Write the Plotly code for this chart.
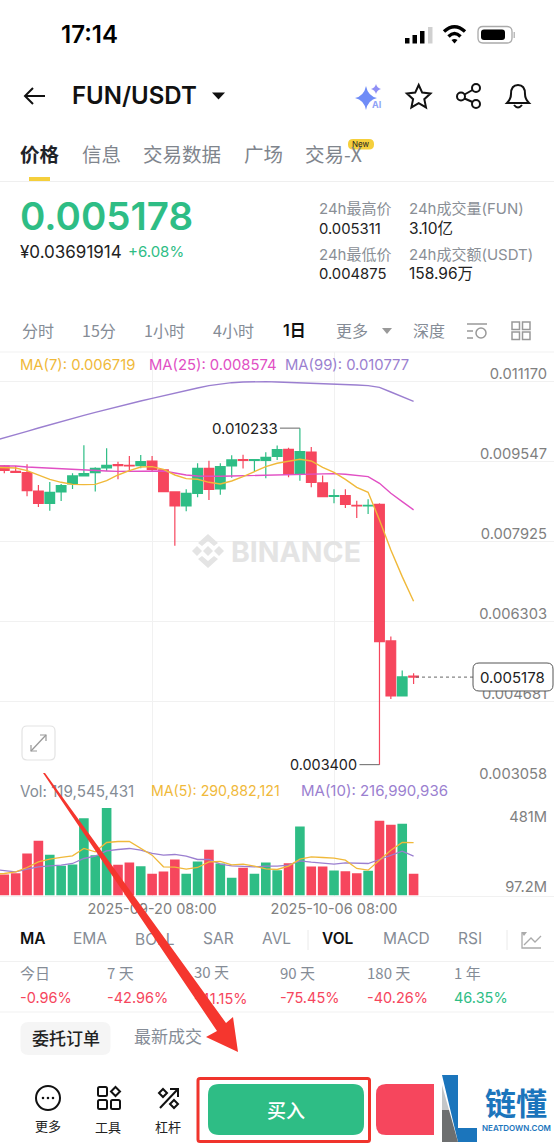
import pandas as pd
import plotly.graph_objects as go

W, H = 554, 1144
GREEN = "#2ebd85"
RED = "#f6465d"
GRAY = "#858c96"
DARK = "#1e2329"
FONT = "Inter, 'Noto Sans CJK SC', sans-serif"
CJK = "'Noto Sans CJK SC', Inter, sans-serif"

# daily bars, first date only feeds the MA lines (it sits off the left edge)
dates = pd.date_range("2025-09-06 08:00", periods=38, freq="D")
candle_dates = dates[1:]

opens = [0.009465, 0.009356, 0.009329, 0.008957, 0.008707, 0.008937, 0.009099, 0.009262, 0.009329, 0.009424,
         0.009492, 0.009478, 0.009471, 0.009566, 0.009384, 0.008937, 0.008653, 0.008910, 0.009417, 0.008998,
         0.009465, 0.009593, 0.009580, 0.009580, 0.009661, 0.009803, 0.009316, 0.009749, 0.009120, 0.008849,
         0.008863, 0.008666, 0.008653, 0.008687, 0.005912, 0.004796, 0.005200]
highs = [0.009485, 0.009465, 0.009499, 0.009079, 0.009140, 0.009099, 0.009316, 0.009884, 0.009438, 0.009823,
         0.009553, 0.009668, 0.009688, 0.009668, 0.009397, 0.008940, 0.008991, 0.009519, 0.009573, 0.009519,
         0.009681, 0.009695, 0.009593, 0.009742, 0.009878, 0.009837, 0.010233, 0.009850, 0.009269, 0.008991,
         0.008991, 0.008761, 0.008788, 0.008707, 0.006000, 0.005311, 0.005257]
lows = [0.009316, 0.009329, 0.008849, 0.008632, 0.008558, 0.008754, 0.008998, 0.009255, 0.008944, 0.009363,
        0.009194, 0.009363, 0.009417, 0.009350, 0.008937, 0.007847, 0.008544, 0.008829, 0.008775, 0.008883,
        0.009228, 0.009411, 0.009350, 0.009214, 0.009587, 0.009235, 0.009167, 0.009032, 0.008829, 0.008707,
        0.008612, 0.008409, 0.008490, 0.003400, 0.004735, 0.004790, 0.005039]
closes = [0.009377, 0.009336, 0.008964, 0.008707, 0.008930, 0.009066, 0.009262, 0.009309, 0.009417, 0.009478,
          0.009471, 0.009465, 0.009553, 0.009397, 0.008944, 0.008653, 0.008910, 0.009417, 0.008991, 0.009451,
          0.009587, 0.009580, 0.009593, 0.009641, 0.009796, 0.009296, 0.009756, 0.009133, 0.008842, 0.008863,
          0.008687, 0.008653, 0.008666, 0.005898, 0.004796, 0.005181, 0.005178]

ma7 = [0.009438, 0.009438, 0.009424, 0.009370, 0.009282, 0.009194, 0.009133, 0.009092, 0.009086, 0.009092,
       0.009167, 0.009282, 0.009370, 0.009444, 0.009451, 0.009397, 0.009282, 0.009208, 0.009194, 0.009133,
       0.009099, 0.009160, 0.009248, 0.009350, 0.009451, 0.009519, 0.009566, 0.009600, 0.009566, 0.009438,
       0.009336, 0.009194, 0.009032, 0.008930, 0.008368, 0.007759, 0.007218, 0.006719]
ma25 = [0.009465, 0.009465, 0.009465, 0.009444, 0.009431, 0.009417, 0.009404, 0.009390, 0.009377, 0.009370,
        0.009363, 0.009356, 0.009356, 0.009363, 0.009370, 0.009363, 0.009323, 0.009282, 0.009262, 0.009255,
        0.009255, 0.009262, 0.009268, 0.009268, 0.009275, 0.009289, 0.009289, 0.009296, 0.009302, 0.009309,
        0.009309, 0.009296, 0.009275, 0.009248, 0.009113, 0.008910, 0.008741, 0.008574]
ma99 = [0.009972, 0.010033, 0.010094, 0.010168, 0.010236, 0.010304, 0.010365, 0.010439, 0.010493, 0.010554,
        0.010615, 0.010676, 0.010723, 0.010784, 0.010838, 0.010893, 0.010947, 0.011008, 0.011048, 0.011096,
        0.011129, 0.011156, 0.011170, 0.011177, 0.011177, 0.011170, 0.011163, 0.011156, 0.011143, 0.011136,
        0.011129, 0.011116, 0.011109, 0.011096, 0.011062, 0.010967, 0.010879, 0.010777]

# volume in millions
volumes = [115.5, 122.8, 231.0, 300.7, 223.7, 163.2, 170.5, 425.3, 221.8, 481.0,
           168.7, 181.5, 161.3, 119.2, 132.0, 198.0, 119.2, 187.0, 251.2, 176.0,
           97.2, 152.2, 119.2, 181.5, 139.3, 177.8, 379.5, 159.5, 159.5, 137.5,
           133.8, 122.8, 135.7, 410.7, 388.7, 394.2, 119.5]
vol_ma5 = [117.3, 121.0, 130.2, 154.0, 185.2, 199.8, 209.0, 218.2, 258.5, 240.2,
           291.5, 297.0, 297.0, 258.5, 221.8, 157.7, 155.8, 144.8, 154.0, 185.2,
           187.0, 168.7, 172.3, 161.3, 146.7, 143.0, 161.3, 199.8, 212.7, 209.0,
           205.3, 194.3, 148.5, 139.3, 194.3, 249.3, 291.5, 290.9]
vol_ma10 = [143.0, 137.5, 130.2, 144.8, 157.7, 163.2, 166.8, 176.0, 203.5, 216.3,
            245.7, 253.0, 258.5, 249.3, 231.0, 221.8, 225.5, 216.3, 198.0, 198.0,
            172.3, 163.2, 161.3, 157.7, 161.3, 161.3, 166.8, 190.7, 183.3, 176.0,
            172.3, 179.7, 176.0, 176.0, 198.0, 221.8, 243.8, 217.0]

price_ticks = [0.011170, 0.009547, 0.007925, 0.006303, 0.004681, 0.003058]
price_labels = ["0.011170", "0.009547", "0.007925", "0.006303", "0.004681", "0.003058"]
vol_ticks = [481, 97.2]
vol_labels = ["481M", "97.2M"]
date_ticks = ["2025-09-20 08:00", "2025-10-06 08:00"]

bar_colors = [GREEN if c >= o else RED for o, c in zip(opens, closes)]


def dom(top, bottom):
    return [1 - bottom / H, 1 - top / H]


fig = go.Figure()

fig.add_trace(go.Candlestick(
    x=candle_dates, open=opens, high=highs, low=lows, close=closes,
    increasing=dict(line=dict(color=GREEN, width=1.2), fillcolor=GREEN),
    decreasing=dict(line=dict(color=RED, width=1.2), fillcolor=RED),
    whiskerwidth=0, xaxis="x", yaxis="y", hoverinfo="skip"))
for vals, col in [(ma99, "#9b7fd0"), (ma25, "#e14fc4"), (ma7, "#f0b93a")]:
    fig.add_trace(go.Scatter(x=dates, y=vals, mode="lines", line=dict(color=col, width=1.4),
                             xaxis="x", yaxis="y", hoverinfo="skip"))

fig.add_trace(go.Bar(x=candle_dates, y=volumes, marker=dict(color=bar_colors, line=dict(width=0)),
                     width=73000000, xaxis="x2", yaxis="y2", hoverinfo="skip"))
for vals, col in [(vol_ma10, "#9b7fd0"), (vol_ma5, "#f0b93a")]:
    fig.add_trace(go.Scatter(x=dates, y=vals, mode="lines", line=dict(color=col, width=1.3),
                             xaxis="x2", yaxis="y2", hoverinfo="skip"))

# texts the red arrow runs over have to be in a trace, annotations would sit on top of it
under_arrow = [
    (20, 793, "Vol: 119,545,431", GRAY, 15.2, FONT),
    (135, 941, "BOLL", GRAY, 15.5, FONT),
    (194, 974, "30 天", GRAY, 15, CJK),
    (194, 1000, "-41.15%", RED, 14.5, FONT),
    (134, 1039, "最新成交", GRAY, 17, CJK),
]
for x, y, s, col, size, fam in under_arrow:
    fig.add_trace(go.Scatter(x=[x], y=[y], mode="text", text=[s], textposition="middle right",
                             textfont=dict(color=col, size=size, family=fam),
                             xaxis="x3", yaxis="y3", hoverinfo="skip"))

grid = "#f1f1f1"
xr = ["2025-09-06 22:55", "2025-10-25 16:24"]
fig.update_layout(
    width=W, height=H, autosize=False, margin=dict(l=0, r=0, t=0, b=0),
    paper_bgcolor="white", plot_bgcolor="rgba(0,0,0,0)", showlegend=False,
    boxgap=0, boxgroupgap=0.15, font=dict(family=FONT),
    xaxis=dict(domain=[0, 1], range=xr, type="date", rangeslider=dict(visible=False), matches="x2",
               tickvals=date_ticks, showticklabels=False, ticks="", showgrid=True, gridcolor=grid,
               gridwidth=1, zeroline=False, anchor="y"),
    yaxis=dict(domain=dom(352, 781.9), range=[0.003050, 0.011779], side="right", anchor="x",
               tickvals=price_ticks, ticktext=price_labels, ticklabelposition="inside",
               ticklabeloverflow="allow", ticklabelshift=-8, ticklabelstandoff=4,
               tickfont=dict(size=14.7, color="#808080", family=FONT),
               ticks="", showgrid=True, gridcolor=grid, gridwidth=1, zeroline=False, showline=False),
    xaxis2=dict(domain=[0, 1], range=xr, type="date", tickvals=date_ticks, tickformat="%Y-%m-%d %H:%M",
                tickfont=dict(size=14.5, color="#808080", family=FONT), ticks="", showgrid=True,
                gridcolor=grid, gridwidth=1, zeroline=False, anchor="y2", showline=True, linecolor=grid),
    yaxis2=dict(domain=dom(782, 895.5), range=[0, 624], side="right", anchor="x2",
                tickvals=vol_ticks, ticktext=vol_labels, ticklabelposition="inside",
                ticklabeloverflow="allow", ticklabelshift=9, ticklabelstandoff=4,
                tickfont=dict(size=14.7, color="#808080", family=FONT),
                ticks="", showgrid=False, zeroline=False),
    # full page axis in screen pixels for the app chrome around the chart
    xaxis3=dict(domain=[0, 1], range=[0, W], visible=False, anchor="y3"),
    yaxis3=dict(domain=[0, 1], range=[H, 0], visible=False, anchor="x3"),
)

shapes = []


def line(x0, y0, x1, y1, col="#000", w=1.0, dash=None):
    shapes.append(dict(type="line", xref="x3", yref="y3", x0=x0, y0=y0, x1=x1, y1=y1,
                       line=dict(color=col, width=w, dash=dash), layer="above"))


def rect(x0, y0, x1, y1, fill=None, col=None, w=0, layer="above"):
    shapes.append(dict(type="rect", xref="x3", yref="y3", x0=x0, y0=y0, x1=x1, y1=y1,
                       fillcolor=fill or "rgba(0,0,0,0)", line=dict(color=col or "rgba(0,0,0,0)", width=w),
                       layer=layer))


def path(d, fill=None, col=None, w=0, layer="above"):
    shapes.append(dict(type="path", xref="x3", yref="y3", path=d, fillcolor=fill or "rgba(0,0,0,0)",
                       line=dict(color=col or "rgba(0,0,0,0)", width=w), layer=layer))


def round_rect(x0, y0, x1, y1, r):
    return (f"M{x0 + r},{y0} L{x1 - r},{y0} Q{x1},{y0} {x1},{y0 + r} L{x1},{y1 - r} Q{x1},{y1} {x1 - r},{y1} "
            f"L{x0 + r},{y1} Q{x0},{y1} {x0},{y1 - r} L{x0},{y0 + r} Q{x0},{y0} {x0 + r},{y0} Z")


def circle(cx, cy, r, fill=None, col=None, w=0):
    shapes.append(dict(type="circle", xref="x3", yref="y3", x0=cx - r, y0=cy - r, x1=cx + r, y1=cy + r,
                       fillcolor=fill or "rgba(0,0,0,0)", line=dict(color=col or "rgba(0,0,0,0)", width=w),
                       layer="above"))


notes = []


def txt(x, y, s, size=14, col=GRAY, anchor="left", weight=None, fam=FONT):
    # annotations pad their box by about a pixel
    if anchor == "left":
        x -= 1
    notes.append(dict(xref="x3", yref="y3", x=x, y=y - 0.5, text=s, showarrow=False, xanchor=anchor,
                      yanchor="middle", font=dict(size=size, color=col, family=fam, weight=weight or 400),
                      borderpad=0))


# status bar
txt(61, 35, "17:14", 24, "#000", weight=600)
for x0, top, col in [(405, 38, "#000"), (412.5, 35, "#000"), (420, 31, "#000"), (428, 27, "#d0d0d0")]:
    rect(x0, top, x0 + 4.5, 43.5, fill=col)
path("M444,31.5 Q454.5,22 465,31.5", col="#000", w=3.4)
path("M448.5,36.5 Q454.5,30.5 460.5,36.5", col="#000", w=3.4)
path("M451.5,40 L454.5,43.5 L457.5,40 Q454.5,38 451.5,40 Z", fill="#000")
path(round_rect(478, 26.5, 512, 43, 5), col="#aaa", w=1.3)
path(round_rect(481, 29.5, 505, 40, 3), fill="#000")
rect(513.5, 32, 515, 38, fill="#bbb")

# title row
line(25, 96, 45, 96, "#111", 2)
path("M33,88 L25,96 L33,104", col="#111", w=2)
txt(72, 96, "FUN/USDT", 24, "#111", weight=600)
path("M212,92.5 L225,92.5 L218.5,99.5 Z", fill="#111")
path("M366,86 Q368,96 377,98 Q368,100 366,110 Q364,100 355,98 Q364,96 366,86 Z", fill="#6f8cf7")
path("M376,84 Q377,88 381,89 Q377,90 376,94 Q375,90 371,89 Q375,88 376,84 Z", fill="#8f8ff5")
txt(376, 105, "AI", 9, "#8fa2f7", "center", 700)
path("M418.7,85 L422.2,92.6 L430.5,93.6 L424.3,99.2 L426,107.4 L418.7,103.2 L411.4,107.4 L413.1,99.2 "
     "L406.9,93.6 L415.2,92.6 Z", col="#111", w=2)
circle(476, 88, 4, col="#111", w=2)
circle(461, 96.5, 4, col="#111", w=2)
circle(476, 104, 4, col="#111", w=2)
line(464.5, 94.5, 472.5, 90, "#111", 2)
line(464.5, 98.5, 472.5, 102, "#111", 2)
path("M507,103 Q511,99 511,94 Q511,85 518,85 Q525,85 525,94 Q525,99 529,103 Z", col="#111", w=2)
path("M514,105 Q518,110 522,105", col="#111", w=2)

# tabs
txt(20, 154, "价格", 19.5, "#1e2329", weight=600, fam=CJK)
for x, s in [(82, "信息"), (143, "交易数据"), (244, "广场")]:
    txt(x, 154, s, 19.5, "#7f858d", fam=CJK)
txt(305, 154, "交易-X", 19.5, "#7f858d", fam=CJK)
path(round_rect(348, 139, 374, 149.5, 5), fill="#f5cf3c")
txt(361, 144.5, "New", 8, "#222", "center")
rect(29, 177, 50, 181, fill="#f5cf3c")
line(0, 181.5, W, 181.5, "#efefef", 1)

# price block
txt(20, 216, "0.005178", 38.5, GREEN, weight=600)
txt(20, 252, "¥0.03691914", 17, "#222")
txt(128, 252, "+6.08%", 15, GREEN)
txt(319, 209, "24h最高价", 15, "#8a8f96", fam=FONT)
txt(319, 229, "0.005311", 14.8, "#222")
txt(319, 255, "24h最低价", 15, "#8a8f96")
txt(319, 274, "0.004875", 14.8, "#222")
txt(409, 209, "24h成交量(FUN)", 15, "#8a8f96")
txt(409, 229, "3.10亿", 15.5, "#222")
txt(409, 255, "24h成交额(USDT)", 15, "#8a8f96")
txt(409, 274, "158.96万", 15.5, "#222")

# interval row
for x, s in [(22, "分时"), (82, "15分"), (144, "1小时"), (213, "4小时"), (336, "更多"), (413, "深度")]:
    txt(x, 330.5, s, 16, "#858c96", fam=CJK)
txt(283, 330.5, "1日", 16, "#111", weight=600)
path("M382,328 L392,328 L387,334 Z", fill="#999")
line(467, 324, 487, 324, "#999", 1.5)
line(467, 331, 473, 331, "#999", 1.5)
line(467, 338, 473, 338, "#999", 1.5)
circle(481, 333, 5, col="#999", w=1.5)
for gx, gy in [(512, 322), (522.5, 322), (512, 332), (522.5, 332)]:
    rect(gx, gy, gx + 7.5, gy + 7.5, col="#999", w=1.5)
line(0, 352, W, 352, "#f1f1f1", 1)

txt(20, 365, "MA(7): 0.006719", 14.8, "#f0b93a")
txt(149, 365, "MA(25): 0.008574", 14.8, "#e14fc4")
txt(285, 365, "MA(99): 0.010777", 14.8, "#9b7fd0")

# watermark goes under the candles
wm = "#e4e4e4"
for d in ["M208,546 L213,551 L208,556 L203,551 Z", "M197,546 L202,551 L197,556 L192,551 Z",
          "M219,546 L224,551 L219,556 L214,551 Z"]:
    path(d, fill=wm, layer="below")
path("M198,543 L208,534 L218,543 L214,546 L208,541 L202,546 Z", fill=wm, layer="below")
path("M198,559 L208,568 L218,559 L214,556 L208,561 L202,556 Z", fill=wm, layer="below")
txt(231, 552, "BINANCE", 28.5, wm, weight=700)

# extreme price tags on the candles
for xv, yv, s, fs in [("2025-10-03 08:00", 0.010233, "0.010233", 15), ("2025-10-10 08:00", 0.003400, "0.003400", 14.4)]:
    notes.append(dict(xref="x", yref="y", x=xv, y=yv, text=s, showarrow=True, arrowhead=0, arrowcolor="#666",
                      arrowwidth=1, ax=-20, ay=0, axref="pixel", ayref="pixel", xanchor="right", standoff=0,
                      font=dict(size=fs, color="#222", family=FONT)))

# last price tag
shapes.append(dict(type="line", xref="x3", yref="y", x0=416, x1=473, y0=0.005178, y1=0.005178,
                   line=dict(color="#666", width=1, dash="3px,3px"), layer="above"))
path(round_rect(473, 663, 553, 691, 6), fill="white", col="#555", w=1)
txt(480, 677.5, "0.005178", 15, "#222")

# expand button
path(round_rect(22, 726, 55, 760, 5), fill="white", col="#e3e3e3", w=1.2)
line(31, 751, 46, 735, "#999", 1.2)
path("M40,735 L46,735 L46,741", col="#999", w=1.2)
path("M31,745 L31,751 L37,751", col="#999", w=1.2)

# volume legend
txt(151, 791, "MA(5): 290,882,121", 14.2, "#f0b93a")
txt(301, 791, "MA(10): 216,990,936", 15, "#9b7fd0")

# indicator row
txt(20, 939, "MA", 15.5, "#111", weight=600)
txt(73, 939, "EMA", 15.5, GRAY)
txt(203, 939, "SAR", 15.5, GRAY)
txt(262, 939, "AVL", 15.5, GRAY)
line(308, 930, 308, 950, "#eaeaea", 1)
txt(322, 939, "VOL", 15.5, "#111", weight=600)
txt(383, 939, "MACD", 15.5, GRAY)
txt(458, 939, "RSI", 15.5, GRAY)
line(507, 930, 507, 950, "#eaeaea", 1)
path("M522,933 L522,948 L541,948", col="#aaa", w=1.3)
path("M524,945 L531,938 L535,942 L541,936", col="#aaa", w=1.3)
path("M521,932 L527,932 L524,936 Z", fill="#aaa")
line(0, 961.5, W, 961.5, "#f1f1f1", 1)

# change row
for x, s in [(20, "今日"), (107, "7 天"), (280, "90 天"), (367, "180 天"), (454, "1 年")]:
    txt(x, 973, s, 15, GRAY, fam=CJK)
for x, s, col in [(20, "-0.96%", RED), (107, "-42.96%", RED), (280, "-75.45%", RED), (367, "-40.26%", RED),
                  (454, "46.35%", GREEN)]:
    txt(x, 998, s, 14.5, col)
line(0, 1012, W, 1012, "#f1f1f1", 1)

# order tabs
path(round_rect(20.5, 1022, 110.5, 1055, 8), fill="#f5f5f5", layer="below")
txt(65.5, 1038, "委托订单", 17, "#222", "center", 500, CJK)

# bottom bar icons
circle(48, 1098, 12, col="#111", w=2)
for dx in [-5, 0, 5]:
    circle(48 + dx, 1098, 1.3, fill="#111")
txt(48, 1126, "更多", 13, "#222", "center", fam=CJK)
for gx, gy in [(98, 1087), (98, 1100), (111, 1100)]:
    path(round_rect(gx, gy, gx + 9, gy + 9, 1.5), col="#111", w=2)
path("M115.5,1087 L120,1091.5 L115.5,1096 L111,1091.5 Z", col="#111", w=2)
txt(108, 1127, "工具", 13, "#222", "center", fam=CJK)
line(160, 1108, 177, 1090, "#111", 2)
path("M170,1089 L178,1089 L178,1097", col="#111", w=2)
path("M163,1089 L167,1093 L163,1097 L159,1093 Z", col="#111", w=2)
path("M174,1100 L178,1104 L174,1108 L170,1104 Z", col="#111", w=2)
txt(168, 1127, "杠杆", 13, "#222", "center", fam=CJK)

# buttons
path(round_rect(376, 1084, 450, 1135, 10), fill=RED)
path(round_rect(198, 1078.5, 369.5, 1141.5, 2), col="#f0342c", w=3)
path(round_rect(208, 1084, 364, 1135, 11), fill=GREEN)
txt(285.5, 1110, "买入", 19, "white", "center", 500, CJK)

# watermark logo bottom right
rect(434, 1072, W, H, fill="white")
path("M442,1075 L458,1075 L458,1128 L477,1128 L477,1142 L458,1142 Z", fill="#1b75bc")
path("M442,1085 L449,1110 L442,1110 Z", fill="#c4c6c8")
path("M442,1110 L449,1110 L458,1142 L442,1142 Z", fill="#6d6f70")
txt(516, 1102, "链懂", 31, "#1b75bc", "center", 700, CJK)
txt(516, 1128, "NEATDOWN.COM", 8, "#1b75bc", "center", 600)

# red arrow over everything
path("M43,773 L217,1031 L206,1037 L238,1052 L233,1017 L226,1023 L45,773 Z", fill="#f5362e")

fig.update_layout(shapes=shapes, annotations=notes)
fig.write_html("out.html", config=dict(displayModeBar=False),
               post_script="document.body.style.margin='0';")
